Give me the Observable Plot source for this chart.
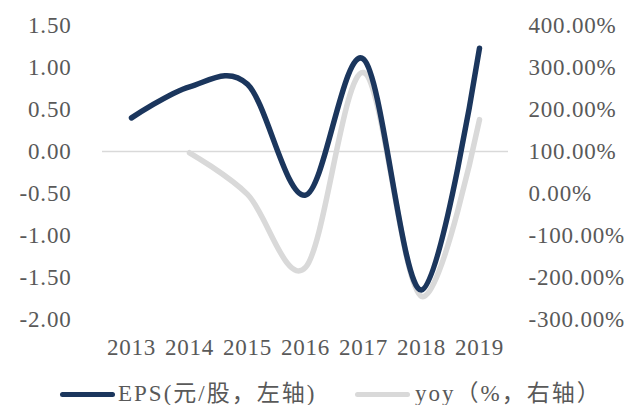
<!DOCTYPE html>
<html><head><meta charset="utf-8">
<script src="https://cdn.jsdelivr.net/npm/d3@7"></script>
<script src="https://cdn.jsdelivr.net/npm/@observablehq/plot@0.6"></script>
<style>
body{margin:0;background:#fff;}
#chart{width:627px;height:405px;position:relative;font-family:"Liberation Serif","Noto Sans CJK SC",serif;color:#595959;}
.item{position:absolute;top:382px;height:24px;line-height:24px;font-size:23px;white-space:nowrap;letter-spacing:2px;}
.sw{position:absolute;height:5px;border-radius:3px;top:392px;}
</style></head><body><div id="chart"></div>
<script>
const years = ["2013","2014","2015","2016","2017","2018","2019"];
const eps = [0.40, 0.77, 0.80, -0.52, 1.10, -1.65, 1.23];
const yoy = [null, 97, -2, -176, 288, -245, 176];
const leftTicks = [-2, -1.5, -1, -0.5, 0, 0.5, 1, 1.5];
const rightTicks = [-300, -200, -100, 0, 100, 200, 300, 400];
const seriesNames = ["EPS(元/股，左轴)", "yoy（%，右轴）"];
const colors = ["#1B365D", "#D9D9D9"];

const toLeft = v => (v - 100) / 200;
const toRight = d => d * 200 + 100;
const epsData = years.map((y, i) => ({year: y, v: eps[i]}));
const yoyData = years.map((y, i) => ({year: y, v: yoy[i]})).filter(d => d.v != null).map(d => ({year: d.year, v: toLeft(d.v)}));

const plot = Plot.plot({
  width: 627, height: 372,
  marginLeft: 102, marginRight: 119, marginTop: 25, marginBottom: 53,
  style: {fontFamily: '"Liberation Serif","Noto Sans CJK SC",serif', fontSize: "23px", color: "#595959", background: "transparent", letterSpacing: "0.8px"},
  x: {type: "band", domain: years, padding: 0, axis: null},
  y: {domain: [-2, 1.5], axis: null},
  marks: [
    Plot.ruleY([0], {stroke: "#D9D9D9", strokeWidth: 1.3}),
    Plot.axisX({tickSize: 0, tickPadding: 19, fill: "#595959", label: null}),
    Plot.axisY(leftTicks, {anchor: "left", tickSize: 0, tickPadding: 31, tickFormat: d => d.toFixed(2), fill: "#595959", label: null}),
    Plot.axisY(rightTicks.map(toLeft), {anchor: "right", tickSize: 0, tickPadding: 20, tickFormat: d => toRight(d).toFixed(2) + "%", fill: "#595959", label: null}),
    Plot.line(yoyData, {x: "year", y: "v", curve: "cardinal", stroke: colors[1], strokeWidth: 5.5, strokeLinecap: "round"}),
    Plot.line(epsData, {x: "year", y: "v", curve: "cardinal", stroke: colors[0], strokeWidth: 5.5, strokeLinecap: "round"})
  ]
});
const chart = document.getElementById("chart");
chart.appendChild(plot);
plot.style.position = "absolute"; plot.style.left = "0"; plot.style.top = "0";

const legendPos = [{sw: 60, tx: 118}, {sw: 355, tx: 415}];
seriesNames.forEach((name, i) => {
  const sw = document.createElement("div");
  sw.className = "sw";
  sw.style.left = legendPos[i].sw + "px";
  sw.style.width = "55px";
  sw.style.background = colors[i];
  chart.appendChild(sw);
  const t = document.createElement("div");
  t.className = "item";
  t.style.left = legendPos[i].tx + "px";
  t.textContent = name;
  chart.appendChild(t);
});
</script>
</body></html>
